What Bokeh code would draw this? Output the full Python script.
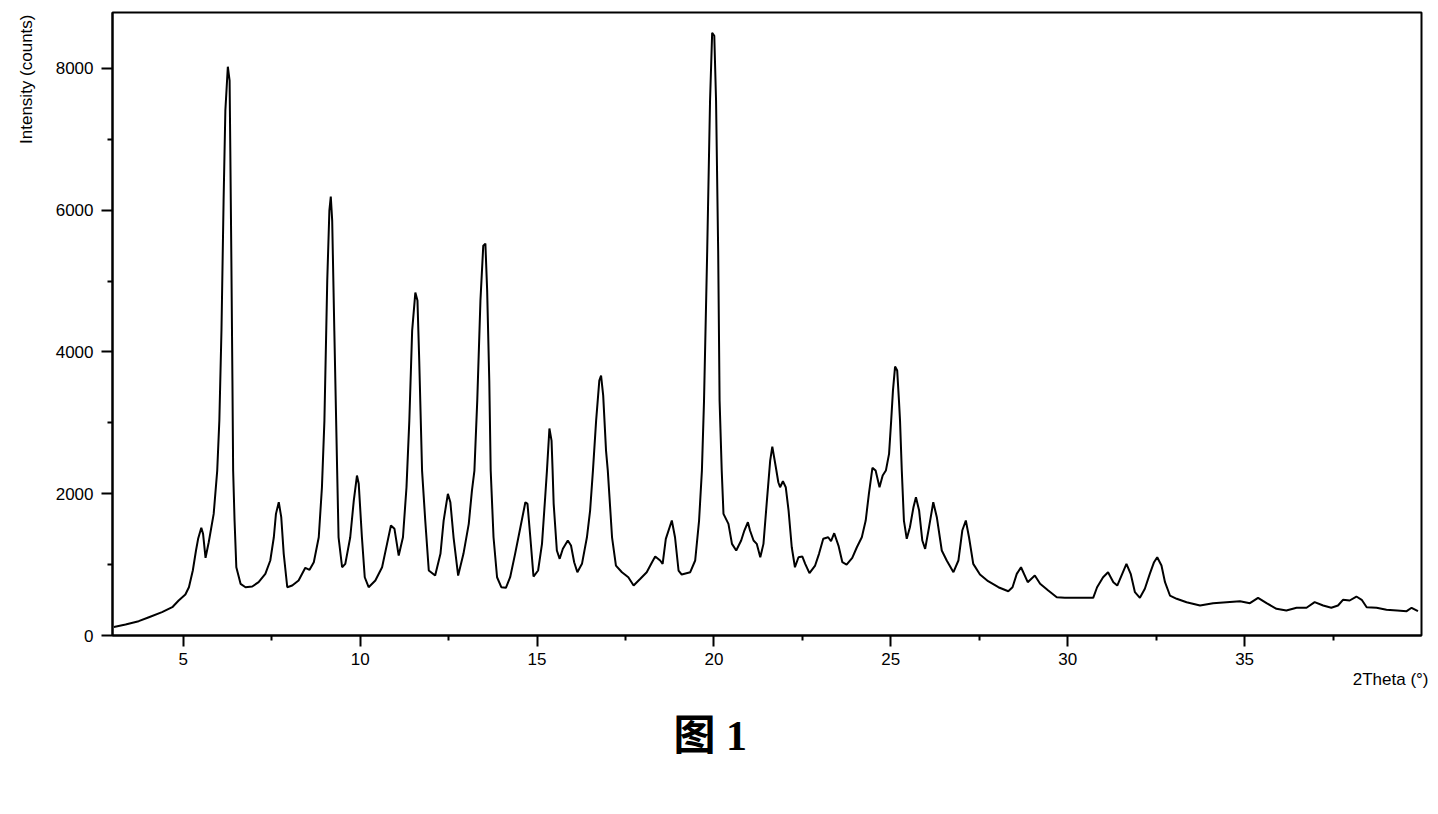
import math
from bokeh.plotting import figure
from bokeh.models import Range1d, FixedTicker, Title, ColumnDataSource
from bokeh.embed import file_html
from bokeh.resources import INLINE

# ---- data (2Theta in degrees, intensity in counts) ----
two_theta = [3.04, 3.37, 3.74, 4.03, 4.40, 4.69, 4.87, 5.06, 5.16, 5.27, 5.36, 5.42, 5.51, 5.56, 5.63, 5.72, 5.86, 5.96,
             6.02, 6.08, 6.14, 6.19, 6.26, 6.31, 6.33, 6.36, 6.39, 6.41, 6.45, 6.50, 6.62, 6.76, 6.95, 7.13, 7.32, 7.46,
             7.56, 7.62, 7.70, 7.77, 7.84, 7.94, 8.08, 8.26, 8.45, 8.57, 8.69, 8.83, 8.92, 8.99, 9.07, 9.13, 9.17, 9.21,
             9.27, 9.35, 9.39, 9.49, 9.58, 9.72, 9.82, 9.91, 9.96, 10.05, 10.13, 10.24, 10.43, 10.62, 10.76, 10.87, 10.97,
             11.09, 11.21, 11.31, 11.39, 11.47, 11.56, 11.62, 11.67, 11.75, 11.84, 11.94, 12.12, 12.27, 12.36, 12.48,
             12.55, 12.64, 12.77, 12.92, 13.07, 13.16, 13.23, 13.31, 13.40, 13.48, 13.54, 13.59, 13.65, 13.69, 13.77,
             13.87, 13.99, 14.12, 14.24, 14.38, 14.53, 14.67, 14.73, 14.81, 14.90, 15.03, 15.14, 15.23, 15.28, 15.35,
             15.41, 15.44, 15.47, 15.56, 15.64, 15.73, 15.87, 15.96, 16.05, 16.14, 16.27, 16.41, 16.50, 16.58, 16.67,
             16.76, 16.81, 16.87, 16.95, 17.00, 17.12, 17.23, 17.40, 17.58, 17.73, 17.92, 18.10, 18.25, 18.34, 18.48,
             18.55, 18.64, 18.81, 18.90, 19.00, 19.09, 19.33, 19.47, 19.58, 19.66, 19.72, 19.81, 19.89, 19.95, 20.01,
             20.06, 20.12, 20.16, 20.22, 20.27, 20.41, 20.51, 20.63, 20.77, 20.86, 20.96, 21.02, 21.12, 21.21, 21.31,
             21.40, 21.49, 21.59, 21.65, 21.75, 21.82, 21.87, 21.95, 22.03, 22.11, 22.20, 22.29, 22.39, 22.50, 22.58,
             22.70, 22.86, 22.97, 23.09, 23.23, 23.31, 23.40, 23.52, 23.63, 23.75, 23.91, 24.04, 24.18, 24.29, 24.38,
             24.48, 24.57, 24.68, 24.77, 24.86, 24.95, 25.01, 25.06, 25.12, 25.18, 25.23, 25.26, 25.31, 25.37, 25.45,
             25.54, 25.64, 25.71, 25.80, 25.89, 25.97, 26.08, 26.20, 26.30, 26.44, 26.58, 26.77, 26.91, 27.02, 27.12,
             27.21, 27.33, 27.52, 27.75, 28.04, 28.32, 28.44, 28.56, 28.68, 28.87, 29.07, 29.22, 29.45, 29.69, 29.92,
             30.25, 30.72, 30.83, 31.00, 31.14, 31.29, 31.40, 31.52, 31.66, 31.78, 31.90, 32.04, 32.18, 32.32, 32.44,
             32.53, 32.65, 32.75, 32.89, 33.08, 33.36, 33.74, 34.11, 34.49, 34.87, 35.15, 35.38, 35.62, 35.90, 36.18,
             36.47, 36.75, 36.98, 37.22, 37.45, 37.64, 37.78, 37.97, 38.16, 38.31, 38.45, 38.73, 39.01, 39.31, 39.58,
             39.72, 39.90]

intensity = [120, 155, 202, 258, 329, 399, 494, 578, 681, 917, 1199, 1364, 1519, 1434, 1096, 1316, 1716, 2327,
             3032, 4302, 6135, 7405, 8025, 7828, 6840, 5289, 3597, 2327, 1622, 963, 729, 681, 691, 752, 870, 1058,
             1386, 1716, 1880, 1669, 1152, 681, 705, 776, 955, 927, 1034, 1386, 2092, 3032, 5007, 5994, 6192, 5853,
             4302, 2327, 1386, 963, 1011, 1386, 1904, 2257, 2140, 1386, 822, 681, 776, 963, 1293, 1551, 1505,
             1128, 1386, 2092, 3032, 4302, 4838, 4725, 3879, 2327, 1622, 917, 846, 1152, 1622, 1999,
             1880, 1386, 846, 1152, 1575, 2045, 2327, 3314, 4725, 5501, 5529, 4866, 3597, 2327, 1386,
             822, 681, 673, 822, 1152, 1528, 1880, 1857, 1386, 832, 917, 1293, 1951, 2327, 2920,
             2750, 2327, 1857, 1199, 1082, 1223, 1340, 1269, 1034, 893, 1011, 1386, 1763, 2327, 3032,
             3597, 3667, 3385, 2609, 2327, 1386, 987, 893, 822, 705, 800, 893, 1034, 1114, 1058,
             1011, 1364, 1622, 1386, 917, 860, 893, 1058, 1622, 2327, 3314, 5430, 7546, 8505, 8462,
             7546, 5430, 3314, 2327, 1716, 1575, 1293, 1199, 1340, 1481, 1598, 1481, 1340, 1293, 1104,
             1293, 1857, 2468, 2666, 2374, 2162, 2092, 2176, 2092, 1763, 1245, 963, 1104, 1114, 1011,
             879, 987, 1152, 1364, 1386, 1330, 1443, 1269, 1034, 1001, 1096, 1245, 1386, 1622, 1999,
             2365, 2327, 2092, 2257, 2327, 2563, 3032, 3455, 3794, 3738, 3314, 3032, 2327, 1622, 1364,
             1528, 1810, 1951, 1763, 1340, 1223, 1528, 1880, 1669, 1199, 1058, 893, 1058, 1481, 1622,
             1386, 1011, 860, 766, 681, 625, 681, 870, 963, 752, 846, 729, 635, 540, 532,
             532, 532, 681, 822, 893, 752, 705, 846, 1011, 870, 611, 532, 659, 870, 1034,
             1104, 987, 752, 564, 518, 470, 423, 456, 470, 484, 456, 532, 456, 377, 353,
             391, 391, 470, 423, 391, 423, 504, 494, 550, 504, 399, 391, 362, 353, 343,
             391, 343]

x_major_ticks = [5, 10, 15, 20, 25, 30, 35]
x_minor_ticks = [7.5, 12.5, 17.5, 22.5, 27.5, 32.5, 37.5]
y_major_ticks = [0, 2000, 4000, 6000, 8000]
y_minor_ticks = [1000, 3000, 5000, 7000]

x_title = "2Theta (°)"
y_title = "Intensity (counts)"
caption = "图 1"

W, H = 1438, 814
LEFT, RIGHT, TOP, BOTTOM = 112, 17, 12, 179

p = figure(width=W, height=H, output_backend="svg", toolbar_location=None,
           x_range=Range1d(3, 40), y_range=Range1d(0, 8790),
           min_border_left=LEFT, min_border_right=RIGHT,
           min_border_top=TOP, min_border_bottom=BOTTOM)

p.background_fill_color = "white"
p.border_fill_color = "white"
p.outline_line_color = "black"
p.outline_line_width = 2
p.xgrid.visible = False
p.ygrid.visible = False

src = ColumnDataSource(dict(x=two_theta, y=intensity))
p.line("x", "y", source=src, line_color="black", line_width=2)

tick_font = "Liberation Sans"
for ax, majors, minors, standoff in ((p.xaxis[0], x_major_ticks, x_minor_ticks, 6),
                                     (p.yaxis[0], y_major_ticks, y_minor_ticks, 8)):
    ax.ticker = FixedTicker(ticks=majors, minor_ticks=minors)
    ax.axis_line_width = 2
    ax.axis_line_color = "black"
    ax.major_tick_line_width = 2
    ax.minor_tick_line_width = 2
    ax.major_tick_in = 0
    ax.major_tick_out = 11
    ax.minor_tick_in = 0
    ax.minor_tick_out = 5
    ax.major_label_text_font = tick_font
    ax.major_label_text_font_size = "17px"
    ax.major_label_text_color = "black"
    ax.major_label_standoff = standoff

# axis titles as side titles (stacked outward from the axes)
p.add_layout(Title(text=y_title, align="right", offset=2, standoff=30, vertical_align="top",
                   text_font=tick_font, text_font_style="normal", text_font_size="17px",
                   text_color="black"), "left")
p.add_layout(Title(text=x_title, align="right", offset=-7, standoff=0,
                   text_font=tick_font, text_font_style="normal", text_font_size="17px",
                   text_color="black"), "below")
p.add_layout(Title(text=caption, align="left", offset=561, standoff=44,
                   text_font="'Liberation Serif', 'Noto Sans CJK SC'",
                   text_font_style="bold", text_font_size="42px", text_color="black"), "below")

open("out.html", "w").write(file_html(p, INLINE))
